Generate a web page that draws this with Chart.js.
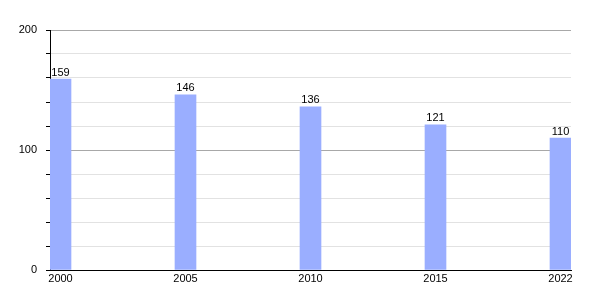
<!DOCTYPE html>
<html>
<head>
<meta charset="UTF-8">
<script src="https://cdn.jsdelivr.net/npm/chart.js"></script>
<style>
  html, body { margin: 0; padding: 0; background: #fff; }
  #wrap { width: 600px; height: 300px; }
</style>
</head>
<body>
<div id="wrap"><canvas id="chart"></canvas></div>
<script>
const years = ['2000', '2005', '2010', '2015', '2022'];
const values = [159, 146, 136, 121, 110];
const yLabels = [0, 100, 200];

// valeurs au-dessus des barres
const barLabels = {
  id: 'barLabels',
  afterDatasetsDraw(chart) {
    const ctx = chart.ctx;
    const meta = chart.getDatasetMeta(0);
    ctx.save();
    ctx.font = '11px "Liberation Sans", Arial, sans-serif';
    ctx.fillStyle = '#000';
    ctx.textAlign = 'center';
    ctx.textBaseline = 'bottom';
    meta.data.forEach((bar, i) => {
      ctx.fillText(values[i], bar.x, bar.y - 1);
    });
    ctx.restore();
  }
};

new Chart(document.getElementById('chart'), {
  type: 'bar',
  data: {
    datasets: [{
      data: years.map((y, i) => ({ x: i, y: values[i] })),
      backgroundColor: '#9aaeff',
      barThickness: 21
    }]
  },
  options: {
    responsive: true,
    maintainAspectRatio: false,
    animation: false,
    layout: { padding: { top: 30, right: 29, left: 0, bottom: 0 } },
    plugins: { legend: { display: false }, tooltip: { enabled: false } },
    scales: {
      x: {
        type: 'linear',
        offset: false,
        min: -0.084,
        max: 4.084,
        afterBuildTicks: s => { s.ticks = years.map((y, i) => ({ value: i })); },
        afterFit: s => { s.height = 30; },
        grid: { display: false, drawTicks: false },
        border: { color: '#000', width: 1 },
        ticks: {
          callback: v => years[v],
          color: '#000',
          font: { family: '"Liberation Sans", Arial, sans-serif', size: 11 },
          padding: 2,
          maxRotation: 0
        }
      },
      y: {
        min: 0,
        max: 200,
        afterFit: s => { s.width = 50; },
        grid: {
          color: c => (c.tick.value % 100 === 0 ? '#a8a8a8' : '#e2e2e2'),
          tickColor: '#000',
          tickLength: 4
        },
        border: { color: '#000', width: 1 },
        ticks: {
          stepSize: 20,
          color: '#000',
          padding: 9,
          font: { family: '"Liberation Sans", Arial, sans-serif', size: 11 },
          callback: v => (yLabels.includes(v) ? v : '')
        }
      }
    }
  },
  plugins: [barLabels]
});
</script>
</body>
</html>
